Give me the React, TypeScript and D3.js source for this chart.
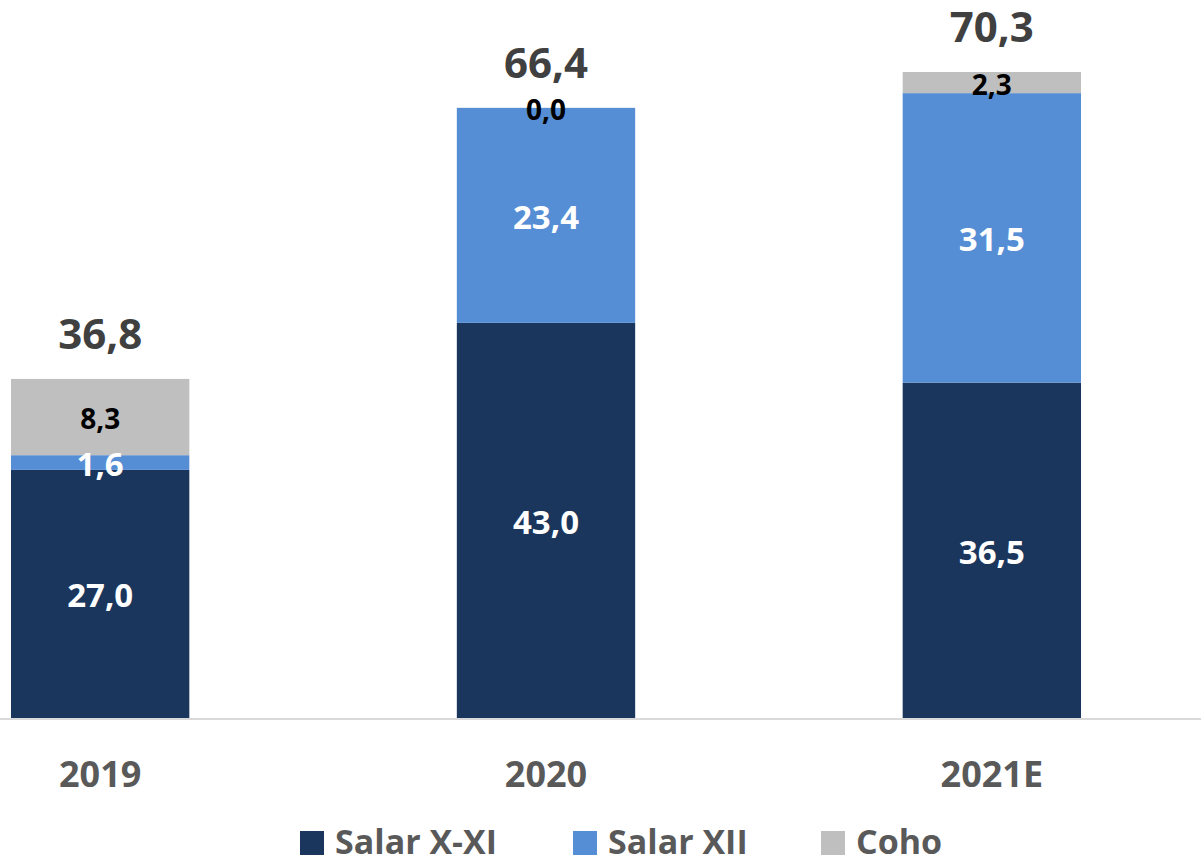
import React from "react";
import * as d3 from "d3";

const categories = ["2019", "2020", "2021E"];
const salarXXI = [27.0, 43.0, 36.5];
const salarXII = [1.6, 23.4, 31.5];
const coho = [8.3, 0.0, 2.3];
const totals = [36.8, 66.4, 70.3];
const seriesNames = ["Salar X-XI", "Salar XII", "Coho"];
const seriesColors = ["#1B365D", "#558ED5", "#BFBFBF"];
const seriesLabelColors = ["#FFFFFF", "#FFFFFF", "#000000"];

const W = 1201;
const H = 861;
const FONT = "'Open Sans', sans-serif";

const fmt = (v: number) => v.toFixed(1).replace(".", ",");

export default function App() {
  const x = d3
    .scaleBand<string>()
    .domain(categories)
    .range([11, 1081])
    .paddingInner(0.6)
    .paddingOuter(0);
  const baseY = 718;
  const y = d3.scaleLinear().domain([0, 70.3]).range([baseY, 72]);

  const seriesData = [salarXXI, salarXII, coho];
  const table = categories.map((c, i) => ({
    cat: c,
    s0: salarXXI[i],
    s1: salarXII[i],
    s2: coho[i],
  }));
  const stack = d3.stack<any>().keys(["s0", "s1", "s2"]);
  const layers = stack(table);

  const bw = x.bandwidth();

  const legendItems = [
    { swatch: 300, text: 335 },
    { swatch: 573, text: 608 },
    { swatch: 821, text: 856 },
  ];

  return (
    <svg
      width={W}
      height={H}
      style={{ position: "absolute", left: 0, top: 0, display: "block" }}
      fontFamily={FONT}
      fontWeight="bold"
    >
      <rect width={W} height={H} fill="#ffffff" />
      {layers.map((layer, si) => (
        <g key={si}>
          {layer.map((d, ci) => (
            <rect
              key={ci}
              x={x(categories[ci])}
              y={y(d[1])}
              width={bw}
              height={Math.max(0, y(d[0]) - y(d[1]))}
              fill={seriesColors[si]}
            />
          ))}
        </g>
      ))}
      <line x1={0} x2={W} y1={baseY + 1} y2={baseY + 1} stroke="#D9D9D9" strokeWidth={2} />
      {layers.map((layer, si) => (
        <g key={"l" + si}>
          {layer.map((d, ci) => (
            <text
              key={ci}
              x={(x(categories[ci]) as number) + bw / 2}
              y={(y(d[0]) + y(d[1])) / 2 + 1}
              textAnchor="middle"
              dominantBaseline="central"
              fill={seriesLabelColors[si]}
              fontSize={si === 2 ? 28 : 33}
            >
              {fmt(seriesData[si][ci])}
            </text>
          ))}
        </g>
      ))}
      {categories.map((c, i) => (
        <text
          key={"t" + c}
          x={(x(c) as number) + bw / 2}
          y={y(layers[2][i][1]) - 30}
          textAnchor="middle"
          fill="#404040"
          fontSize={42}
        >
          {fmt(totals[i])}
        </text>
      ))}
      {categories.map((c) => (
        <text
          key={"a" + c}
          x={(x(c) as number) + bw / 2}
          y={787}
          textAnchor="middle"
          fill="#595959"
          fontSize={36}
        >
          {c}
        </text>
      ))}
      {seriesNames.map((n, i) => (
        <g key={"lg" + n}>
          <rect x={legendItems[i].swatch} y={831} width={24} height={24} fill={seriesColors[i]} />
          <text x={legendItems[i].text} y={854} fill="#595959" fontSize={34}>
            {n}
          </text>
        </g>
      ))}
    </svg>
  );
}
